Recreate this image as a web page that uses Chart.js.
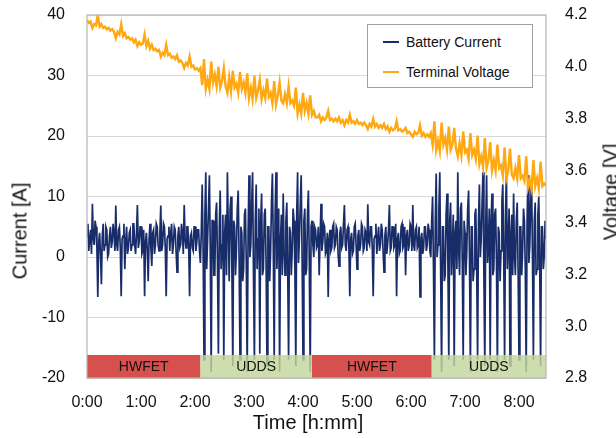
<!DOCTYPE html>
<html>
<head>
<meta charset="utf-8">
<script src="https://cdn.jsdelivr.net/npm/chart.js@4/dist/chart.umd.min.js"></script>
<style>
  html, body { margin: 0; padding: 0; background: #fff; }
  #wrap { position: relative; width: 616px; height: 438px; font-family: 'Liberation Sans', Arial, sans-serif; color: #111; }
  #chart { position: absolute; left: 0; top: 0; }
  .vtitle { position: absolute; font-size: 20px; white-space: nowrap; transform: translate(-50%, -50%) rotate(-90deg); }
  #xtitle { position: absolute; left: 308px; top: 422px; font-size: 20px; white-space: nowrap; transform: translate(-50%, -50%); }
  #legend { position: absolute; left: 367px; top: 24px; width: 164px; height: 62px; border: 1px solid #a0a0a0; background: #fff; font-size: 14px; }
  #legend .item { position: absolute; left: 15px; height: 18px; line-height: 18px; }
  #legend .sw { display: inline-block; width: 16px; height: 2px; vertical-align: middle; margin-right: 7px; position: relative; top: -1px; }
</style>
</head>
<body>
<div id="wrap">
  <canvas id="chart" width="616" height="438"></canvas>
  <div class="vtitle" style="left:20px; top:231px;">Current [A]</div>
  <div class="vtitle" style="left:611px; top:192px;">Voltage [V]</div>
  <div id="xtitle">Time [h:mm]</div>
  <div id="legend"></div>
</div>
<script>
// current sampled every minute, voltage every 2 minutes, 0 .. 510 min
const currentStep = 1;
const voltageStep = 2;

const current = [
  3.5, 5.5, 1, 3, 4.5, 0.5, 8.8, 3, 2, 6, 5, 1.5, -6.6, 2.5, 4, 0.5,
  -4.5, 3.5, 5.5, 1, 2, 5, 4.5, 0, 0.5, 3.5, 5, 1.5, 2.5, 5.5, 4, 1,
  8.5, 2, 1, 4.5, 5, 1.5, -6.5, 3, 3.5, 5.5, -2, 2.5, 5, 0.5, 1.5, 4,
  4.5, 1, 2, 5.5, 5.5, 2, 0.5, 4, 8.6, 1.5, 2.5, 5, 5, 0.5, 1, 4.5,
  -6.5, 2.5, 4, 1, -4, 3, 5.5, 1.5, -1.5, 4, 4.5, 0.5, 2, 5.5, 5, 2,
  1, 4, 8.5, 1, 2, 5.5, 5, 1.5, -6.5, 3, 3.5, 5, 1, 4, 5.5, 0.5,
  2, 5, 4.5, 1, -2.5, 3.5, 5, 1.5, 2, 5.5, 4, 0.5, 8.6, 3, 1.5, 5,
  5, 2, -6.5, 3.5, 4, 1.5, 1, 5, 5, 1, 2.5, 4.5, 4.5, 1, -1, 4,
  12, 2, -17, 7, 14, -2, 3, 8, 13.5, 1, -19, 6, 6, -3, -3, 7,
  9, -1, -16, 5, 11, -2, 2, 7, -17, 4, 7, -3, 14, 5, -4, 8,
  10, -2, -18, 6, 5, -3, 1, 8, 11, 0, -17, 5, 4, -4, -2, 7,
  8, -1, -19, 4, 13.5, 0, 2, 9, 14, -3, -17, 6, 12, -2, 3, 8,
  -16, 6, 10.5, -3, -2, 7, 8, -1, -18, 5, 5, -4, 1, 9, 13.8, 2,
  -17, 7, 14, -2, 4, 8, -19, 3, 7, -3, 10.5, 1, -3, 6, 9, -2,
  -17, 5, 4, -3, 1, 8, 6, -2, -18, 7, 14, -1, 3, 9, 13.5, 0,
  -17, 6, 8, -3, -2, 7, 11, -1, -19, 5, 6, 2, 0, 5, 4.5, 1.5,
  2, 5, -3, 3, 8.8, 1, 2.5, 5.5, 5, 0.5, 1, 4, -6.6, 3, 4.5, 1,
  1.5, 5, 5.5, 1.5, 2, 5, 4.5, 0.5, -1.5, 4, 5, 1.5, 2, 5.5, 8.6, 2,
  1, 4.5, 5, 1.5, -6.5, 3, 4, 0.5, 1, 5, 5.5, 2, -2, 3.5, 4.5, 1,
  2, 5.5, 5, 1, 1.5, 4.5, 4, 1, 8.7, 2.5, 2, 5, 5, 1.5, -6.5, 3,
  3.5, 5.5, 0.5, 3, 5, 1, 2, 5.5, 4.5, 1, -2.5, 3.5, 5, 0.5, 2, 4.5,
  8.6, 1, 1.5, 5, 5, 1.5, 2, 5.5, -6.5, 3, 4, 0.5, 1, 5, 5.5, 1.5,
  2, 5, -3, 3.5, 4.5, 1, 2, 5.5, 5, 1, 8.6, 2, 1, 4.5, 5, 1.5,
  2, 5, -6.6, 3, 4, 0.5, 1.5, 5, 5, 1, 2, 5.5, 4.5, 1, 0, 6,
  10, -2, -17, 6, 13.8, 0, 2, 8, 14, -3, -19, 5, 5, -4, -3, 7,
  10.5, -1, -17, 6, 9, -3, 2, 7, -18, 4, 6, -2, 14, 1, -3, 8,
  9, -1, -17, 6, 4, -3, 1, 8, 11, 0, -19, 5, 5, -4, -2, 7,
  8, -2, -17, 6, 12, 0, 3, 9, 14, -3, -18, 5, 13.5, -1, 2, 8,
  -17, 6, 10.5, -3, -2, 7, 8, -1, -19, 5, 4, -4, 1, 9, 12, 1,
  -17, 7, 14, -2, 3, 8, -18, 4, 7, -3, 10.5, 0, -3, 6, 9, -2,
  -17, 5, 5, -3, 1, 8, 6, -2, -19, 6, 13.5, -1, 2, 9, 12.5, 0,
  -17, 6, 9, -3, -2, 7, 10, -1, -18, 5, 5, -2, 0, 6, 3
];

const voltage = [
  4.18, 4.17, 4.175, 4.15, 4.165, 4.16, 4.2, 4.155, 4.165, 4.15, 4.155, 4.145, 4.15, 4.14, 4.145, 4.135,
  4.11, 4.135, 4.125, 4.165, 4.12, 4.13, 4.11, 4.115, 4.105, 4.11, 4.095, 4.105, 4.08, 4.095, 4.085, 4.09,
  4.125, 4.08, 4.1, 4.07, 4.085, 4.065, 4.07, 4.06, 4.065, 4.04, 4.055, 4.045, 4.085, 4.045, 4.05, 4.035,
  4.04, 4.03, 4.045, 4.02, 4.025, 4.015, 3.995, 4.015, 4.005, 4.04, 4.0, 4.005, 3.99, 3.995, 3.985, 3.995,
  3.93, 4.03, 3.915, 3.95, 3.915, 4.02, 3.94, 3.97, 3.925, 4.0, 3.92, 3.945, 3.995, 3.925, 3.9, 3.96,
  3.905, 3.985, 3.92, 3.935, 3.9, 3.98, 3.915, 3.94, 3.9, 3.975, 3.88, 3.92, 3.875, 3.965, 3.88, 3.91,
  3.95, 3.875, 3.91, 3.88, 3.955, 3.885, 3.9, 3.86, 3.945, 3.855, 3.89, 3.94, 3.87, 3.86, 3.895, 3.86,
  3.925, 3.86, 3.87, 3.85, 3.92, 3.82, 3.855, 3.82, 3.9, 3.83, 3.86, 3.82, 3.89, 3.815, 3.83, 3.805,
  3.805, 3.815, 3.79, 3.805, 3.795, 3.805, 3.83, 3.795, 3.8, 3.79, 3.8, 3.79, 3.805, 3.785, 3.795, 3.775,
  3.795, 3.785, 3.815, 3.785, 3.79, 3.78, 3.795, 3.78, 3.785, 3.775, 3.785, 3.775, 3.76, 3.78, 3.77, 3.8,
  3.77, 3.78, 3.765, 3.775, 3.765, 3.78, 3.76, 3.77, 3.75, 3.765, 3.755, 3.76, 3.79, 3.755, 3.76, 3.75,
  3.755, 3.765, 3.745, 3.75, 3.74, 3.73, 3.75, 3.74, 3.745, 3.775, 3.735, 3.745, 3.73, 3.74, 3.73, 3.745,
  3.7, 3.79, 3.68, 3.715, 3.675, 3.785, 3.7, 3.725, 3.68, 3.77, 3.68, 3.7, 3.765, 3.685, 3.655, 3.705,
  3.66, 3.75, 3.67, 3.68, 3.645, 3.745, 3.66, 3.68, 3.645, 3.735, 3.625, 3.655, 3.615, 3.725, 3.61, 3.64,
  3.71, 3.6, 3.64, 3.6, 3.7, 3.61, 3.62, 3.58, 3.69, 3.57, 3.6, 3.685, 3.585, 3.57, 3.61, 3.57,
  3.66, 3.57, 3.58, 3.56, 3.655, 3.535, 3.565, 3.53, 3.64, 3.54, 3.57, 3.53, 3.635, 3.54, 3.55, 3.54
];

// drive cycle strip along the bottom (minutes)
const phaseNames = ['HWFET', 'UDDS', 'HWFET', 'UDDS'];
const phaseStart = [0, 126, 250, 383];
const phaseEnd = [126, 250, 383, 510];
const phaseColors = { HWFET: '#d6504d', UDDS: 'rgba(195,214,155,0.82)' };
const stripTop = -16.2, stripBottom = -20;

const currentTicks = [-20, -10, 0, 10, 20, 30, 40];
const voltageTicks = [2.8, 3.0, 3.2, 3.4, 3.6, 3.8, 4.0, 4.2];

const navy = '#182c6a';
const orange = '#ffa812';
const font = "'Liberation Sans', Arial, sans-serif";

const stripPlugin = {
  id: 'strip',
  afterDatasetsDraw(chart) {
    const { ctx, scales: { x, y } } = chart;
    const yt = y.getPixelForValue(stripTop), yb = y.getPixelForValue(stripBottom);
    ctx.save();
    phaseNames.forEach((name, i) => {
      const x0 = x.getPixelForValue(phaseStart[i]);
      const x1 = x.getPixelForValue(phaseEnd[i]);
      ctx.fillStyle = phaseColors[name];
      ctx.fillRect(x0, yt, x1 - x0, yb - yt);
      ctx.fillStyle = '#111';
      ctx.font = '14px ' + font;
      ctx.textAlign = 'center';
      ctx.textBaseline = 'middle';
      ctx.fillText(name, (x0 + x1) / 2, (yt + yb) / 2 + 1);
    });
    ctx.restore();
  },
  afterDraw(chart) {
    const { ctx, chartArea: a } = chart;
    ctx.save();
    ctx.strokeStyle = '#b4b4b4';
    ctx.lineWidth = 1.2;
    ctx.strokeRect(a.left, a.top, a.right - a.left, a.bottom - a.top);
    ctx.restore();
  }
};

function fixVertical(s, w) {
  s.width = w;
  s.paddingTop = 0;
  s.paddingBottom = 0;
}

const ctx = document.getElementById('chart').getContext('2d');
const chart = new Chart(ctx, {
  type: 'line',
  data: {
    datasets: [
      {
        label: 'Battery Current',
        data: current.map((v, i) => ({ x: i * currentStep, y: v })),
        yAxisID: 'y',
        borderColor: navy,
        borderWidth: 1.7,
        pointRadius: 0,
        tension: 0,
        order: 1
      },
      {
        label: 'Terminal Voltage',
        data: voltage.map((v, i) => ({ x: i * voltageStep, y: v })),
        yAxisID: 'y2',
        borderColor: orange,
        borderWidth: 2.4,
        pointRadius: 0,
        tension: 0,
        order: 0
      }
    ]
  },
  options: {
    responsive: false,
    animation: false,
    layout: { padding: { top: 15, left: 0, right: 0, bottom: 0 } },
    plugins: { legend: { display: false }, tooltip: { enabled: false } },
    scales: {
      x: {
        type: 'linear',
        min: 0,
        max: 510,
        grid: { display: false },
        border: { display: false },
        ticks: {
          stepSize: 60,
          includeBounds: false,
          padding: 7,
          color: '#111',
          font: { family: font, size: 16 },
          maxRotation: 0,
          callback: v => Math.floor(v / 60) + ':' + String(v % 60).padStart(2, '0')
        },
        afterFit: s => { s.height = 60; s.paddingLeft = 0; s.paddingRight = 0; }
      },
      y: {
        position: 'left',
        min: currentTicks[0],
        max: currentTicks[currentTicks.length - 1],
        afterBuildTicks: s => { s.ticks = currentTicks.map(v => ({ value: v })); },
        grid: { color: '#d9d9d9', drawTicks: false },
        border: { display: false },
        ticks: { padding: 22, color: '#111', font: { family: font, size: 16 } },
        afterFit: s => fixVertical(s, 87)
      },
      y2: {
        position: 'right',
        min: voltageTicks[0],
        max: voltageTicks[voltageTicks.length - 1],
        afterBuildTicks: s => { s.ticks = voltageTicks.map(v => ({ value: v })); },
        grid: { display: false, drawTicks: false },
        border: { display: false },
        ticks: {
          padding: 19,
          color: '#111',
          font: { family: font, size: 16 },
          callback: v => v.toFixed(1)
        },
        afterFit: s => fixVertical(s, 70)
      }
    }
  },
  plugins: [stripPlugin]
});

// legend box
const legend = document.getElementById('legend');
[['Battery Current', navy, 8], ['Terminal Voltage', orange, 38]].forEach(([text, color, top]) => {
  const item = document.createElement('div');
  item.className = 'item';
  item.style.top = top + 'px';
  item.innerHTML = '<span class="sw" style="background:' + color + '"></span>' + text;
  legend.appendChild(item);
});
</script>
</body>
</html>
